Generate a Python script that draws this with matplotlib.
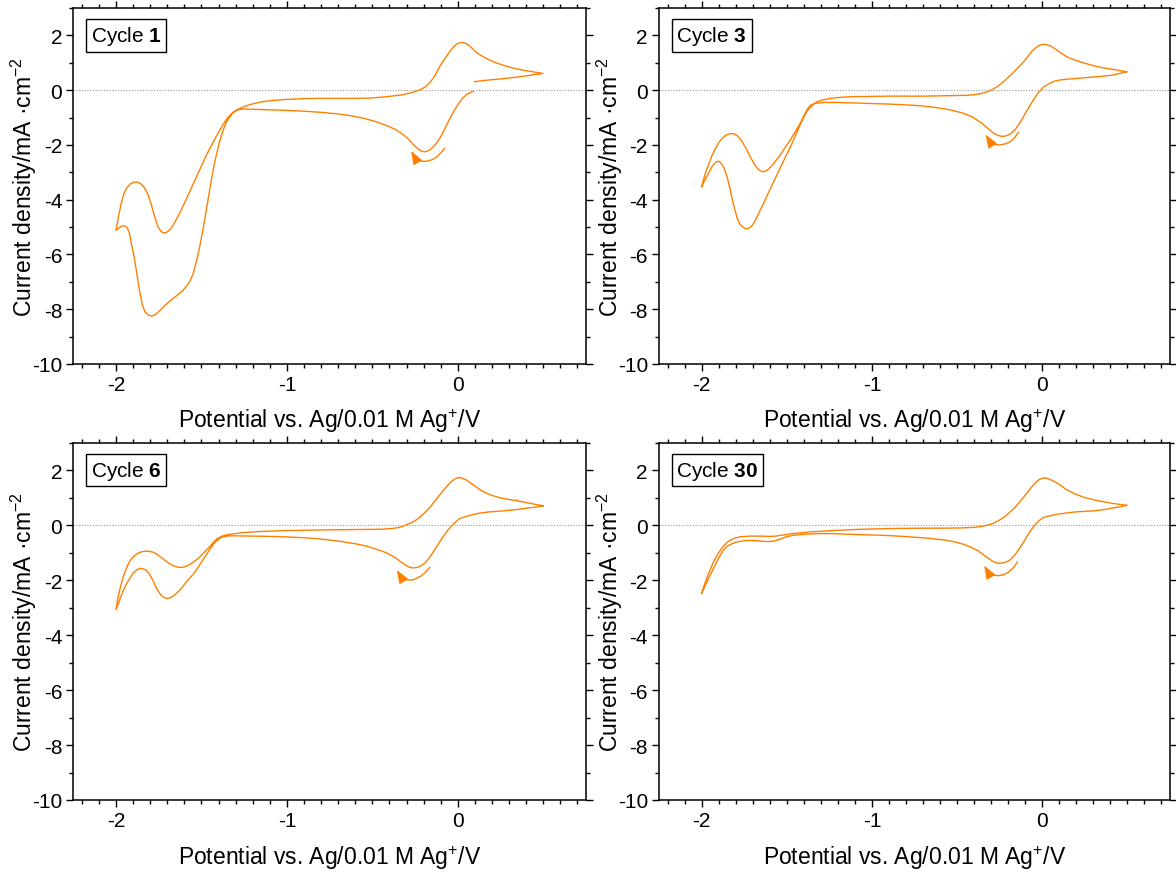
import matplotlib
matplotlib.use("Agg")
import matplotlib.pyplot as plt
from matplotlib.ticker import MultipleLocator

plt.rcParams['font.family'] = ['Liberation Sans', 'DejaVu Sans']
plt.rcParams['mathtext.fontset'] = 'custom'
plt.rcParams['mathtext.rm'] = 'Liberation Sans'
plt.rcParams['mathtext.bf'] = 'Liberation Sans:bold'
plt.rcParams['mathtext.default'] = 'regular'
plt.rcParams['axes.unicode_minus'] = False

# ---------------- data: potential (V) and current density (mA cm^-2) ----------------
# Cycle 1 main loop
E_c1 = [0.091, 0.07, 0.049, 0.025, 0.0, -0.025, -0.049, -0.073, -0.097, -0.122, -0.146, -0.168,
        -0.189, -0.207, -0.224, -0.243, -0.263, -0.29, -0.322, -0.37, -0.419, -0.48, -0.55, -0.62,
        -0.7, -0.8, -0.9, -1.0, -1.1, -1.2, -1.25, -1.285, -1.317, -1.336, -1.356, -1.375, -1.395,
        -1.415, -1.434, -1.453, -1.473, -1.492, -1.512, -1.531, -1.55, -1.565, -1.58, -1.61, -1.65,
        -1.688, -1.72, -1.747, -1.77, -1.79, -1.81, -1.83, -1.845, -1.863, -1.878, -1.893, -1.91,
        -1.922, -1.935, -1.95, -1.965, -1.98, -2.0,
        -1.995, -1.985, -1.97, -1.955, -1.935, -1.915, -1.895, -1.873, -1.855, -1.835, -1.815,
        -1.795, -1.775, -1.755, -1.735, -1.717, -1.698, -1.678, -1.655, -1.63, -1.59, -1.55, -1.51,
        -1.473, -1.44, -1.41, -1.378, -1.35, -1.32, -1.29, -1.25, -1.2, -1.14, -1.07, -1.0, -0.9,
        -0.8, -0.7, -0.6, -0.517, -0.45, -0.39, -0.322, -0.27, -0.224, -0.195, -0.166, -0.137,
        -0.107, -0.078, -0.049, -0.025, -0.009, 0.008, 0.026, 0.048, 0.068, 0.088, 0.108, 0.135,
        0.166, 0.21, 0.264, 0.32, 0.38, 0.44, 0.498,
        0.45, 0.4, 0.35, 0.3, 0.25, 0.2, 0.15, 0.098]
j_c1 = [-0.04, -0.10, -0.17, -0.32, -0.53, -0.79, -1.07, -1.37, -1.67, -1.92, -2.09, -2.20,
        -2.25, -2.24, -2.19, -2.09, -1.97, -1.78, -1.61, -1.42, -1.29, -1.15, -1.03, -0.94,
        -0.87, -0.81, -0.77, -0.74, -0.72, -0.70, -0.69, -0.71, -0.83, -1.0, -1.19, -1.5, -1.91,
        -2.42, -3.0, -3.7, -4.44, -5.12, -5.77, -6.3, -6.73, -6.95, -7.09, -7.33, -7.53,
        -7.72, -7.9, -8.07, -8.2, -8.25, -8.22, -8.1, -7.85, -7.3, -6.7, -6.13, -5.6,
        -5.2, -5.02, -4.96, -4.96, -5.02, -5.12,
        -4.95, -4.6, -4.15, -3.8, -3.55, -3.42, -3.36, -3.36, -3.42, -3.55, -3.78,
        -4.15, -4.6, -4.98, -5.17, -5.22, -5.17, -5.05, -4.82, -4.52, -4.0, -3.45, -2.9,
        -2.4, -2.0, -1.65, -1.30, -1.03, -0.84, -0.71, -0.60, -0.5, -0.42, -0.37, -0.34, -0.31,
        -0.30, -0.30, -0.30, -0.29, -0.26, -0.22, -0.17, -0.09, 0.0, 0.10, 0.25, 0.50,
        0.85, 1.13, 1.39, 1.58, 1.67, 1.72, 1.74, 1.70, 1.62, 1.50, 1.38, 1.27,
        1.16, 1.03, 0.91, 0.81, 0.73, 0.67, 0.61,
        0.57, 0.52, 0.48, 0.44, 0.41, 0.38, 0.35, 0.31]
E_hook_c1 = [-0.078, -0.1, -0.126, -0.15, -0.175, -0.2, -0.224, -0.245]
j_hook_c1 = [-2.13, -2.3, -2.45, -2.54, -2.59, -2.6, -2.58, -2.53]
tip_c1 = (-0.273, -2.22)

# Cycle 3 main loop
E_c3 = [0.495, 0.45, 0.413, 0.36, 0.303, 0.25, 0.193, 0.15, 0.105, 0.075, 0.051, 0.03, 0.007,
        -0.01, -0.026, -0.048, -0.07, -0.092, -0.114, -0.136, -0.158, -0.182, -0.207, -0.228,
        -0.246, -0.268, -0.29, -0.323, -0.356, -0.41, -0.466, -0.54, -0.62, -0.7, -0.796, -0.9,
        -1.0, -1.1, -1.2, -1.28, -1.33, -1.36, -1.38, -1.40, -1.415, -1.433, -1.455, -1.477,
        -1.51, -1.543, -1.576, -1.609, -1.637, -1.664, -1.688, -1.708, -1.725, -1.741, -1.76,
        -1.775, -1.79, -1.803, -1.818, -1.835, -1.851, -1.868, -1.884, -1.9, -1.915, -1.938,
        -1.955, -1.971, -1.986, -2.0,
        -1.99, -1.975, -1.96, -1.94, -1.916, -1.895, -1.873, -1.853, -1.833, -1.815, -1.796,
        -1.78, -1.763, -1.742, -1.719, -1.697, -1.675, -1.658, -1.642, -1.625, -1.609, -1.58,
        -1.543, -1.51, -1.477, -1.45, -1.422, -1.40, -1.375, -1.345, -1.32, -1.29, -1.25, -1.2,
        -1.125, -1.0, -0.9, -0.8, -0.7, -0.6, -0.5, -0.44, -0.39, -0.356, -0.325, -0.3, -0.272,
        -0.246, -0.213, -0.18, -0.147, -0.114, -0.086, -0.059, -0.035, -0.015, 0.005, 0.025,
        0.05, 0.078, 0.105, 0.14, 0.193, 0.25, 0.303, 0.36, 0.413, 0.45, 0.495]
j_c3 = [0.67, 0.60, 0.55, 0.51, 0.48, 0.45, 0.42, 0.40, 0.37, 0.33, 0.27, 0.20, 0.11,
        0.0, -0.12, -0.32, -0.54, -0.77, -1.01, -1.24, -1.43, -1.58, -1.66, -1.69,
        -1.68, -1.63, -1.55, -1.38, -1.20, -0.98, -0.84, -0.72, -0.64, -0.58, -0.54, -0.51,
        -0.49, -0.47, -0.45, -0.45, -0.48, -0.55, -0.70, -0.95, -1.18, -1.44, -1.75, -2.05,
        -2.47, -2.9, -3.33, -3.76, -4.14, -4.49, -4.8, -4.98, -5.05, -5.06, -5.0,
        -4.9, -4.7, -4.4, -4.05, -3.55, -3.15, -2.85, -2.68, -2.6, -2.62, -2.78,
        -2.98, -3.17, -3.35, -3.54,
        -3.3, -2.98, -2.74, -2.40, -2.1, -1.88, -1.72, -1.63, -1.59, -1.59, -1.64,
        -1.73, -1.87, -2.1, -2.38, -2.64, -2.84, -2.94, -2.98, -2.96, -2.9, -2.7,
        -2.41, -2.1, -1.8, -1.52, -1.22, -0.96, -0.72, -0.52, -0.42, -0.36, -0.31, -0.27,
        -0.24, -0.23, -0.22, -0.22, -0.22, -0.21, -0.2, -0.19, -0.16, -0.12, -0.07, 0.0, 0.1,
        0.21, 0.39, 0.58, 0.79, 1.0, 1.22, 1.43, 1.56, 1.64, 1.67, 1.66,
        1.61, 1.50, 1.37, 1.23, 1.09, 0.98, 0.89, 0.81, 0.76, 0.72, 0.67]
E_hook_c3 = [-0.141, -0.16, -0.18, -0.21, -0.246, -0.27, -0.3]
j_hook_c3 = [-1.54, -1.72, -1.85, -1.95, -2.0, -1.99, -1.95]
tip_c3 = (-0.333, -1.62)

# Cycle 6 main loop
E_c6 = [0.5, 0.45, 0.405, 0.35, 0.3, 0.25, 0.184, 0.13, 0.073, 0.04, 0.007, -0.015, -0.038,
        -0.06, -0.082, -0.104, -0.126, -0.148, -0.17, -0.192, -0.215, -0.24, -0.263, -0.283,
        -0.303, -0.335, -0.369, -0.42, -0.48, -0.53, -0.59, -0.7, -0.812, -0.9, -1.0, -1.1,
        -1.2, -1.3, -1.343, -1.37, -1.39, -1.41, -1.431, -1.455, -1.476, -1.5, -1.52, -1.55,
        -1.586, -1.62, -1.653, -1.675, -1.697, -1.718, -1.74, -1.763, -1.785, -1.805, -1.825,
        -1.852, -1.875, -1.9, -1.92, -1.94, -1.96, -1.98, -2.0,
        -1.99, -1.978, -1.96, -1.94, -1.918, -1.895, -1.874, -1.85, -1.83, -1.81, -1.785,
        -1.763, -1.73, -1.697, -1.665, -1.63, -1.605, -1.586, -1.555, -1.52, -1.49, -1.454,
        -1.43, -1.41, -1.385, -1.365, -1.33, -1.254, -1.15, -1.0, -0.85, -0.7, -0.55, -0.45,
        -0.38, -0.347, -0.32, -0.3, -0.275, -0.25, -0.22, -0.185, -0.15, -0.12, -0.09, -0.06,
        -0.035, -0.015, 0.005, 0.025, 0.05, 0.075, 0.1, 0.13, 0.165, 0.2, 0.25, 0.3, 0.34,
        0.345, 0.352, 0.4, 0.45, 0.5]
j_c6 = [0.70, 0.65, 0.62, 0.57, 0.54, 0.51, 0.48, 0.44, 0.36, 0.30, 0.22, 0.10, -0.04,
        -0.2, -0.38, -0.59, -0.8, -1.02, -1.22, -1.38, -1.48, -1.54, -1.56, -1.53,
        -1.47, -1.33, -1.17, -1.0, -0.87, -0.77, -0.69, -0.58, -0.5, -0.46, -0.43, -0.41,
        -0.40, -0.39, -0.39, -0.42, -0.47, -0.57, -0.70, -0.92, -1.12, -1.35, -1.54, -1.80,
        -2.05, -2.32, -2.52, -2.62, -2.67, -2.64, -2.52, -2.3, -2.0, -1.78, -1.63,
        -1.57, -1.61, -1.75, -1.95, -2.15, -2.42, -2.75, -3.08,
        -2.7, -2.35, -1.92, -1.58, -1.29, -1.13, -1.03, -0.97, -0.95, -0.95, -0.98,
        -1.05, -1.2, -1.36, -1.48, -1.54, -1.53, -1.49, -1.38, -1.22, -1.03, -0.8,
        -0.63, -0.5, -0.42, -0.37, -0.33, -0.27, -0.23, -0.2, -0.18, -0.17, -0.16, -0.15,
        -0.12, -0.09, -0.04, 0.02, 0.08, 0.16, 0.30, 0.5, 0.75, 0.99, 1.22, 1.44,
        1.6, 1.69, 1.73, 1.71, 1.64, 1.53, 1.42, 1.29, 1.17, 1.08, 0.99, 0.93, 0.89,
        0.92, 0.88, 0.82, 0.76, 0.70]
E_hook_c6 = [-0.164, -0.19, -0.215, -0.245, -0.27, -0.295, -0.325]
j_hook_c6 = [-1.54, -1.72, -1.85, -1.95, -2.0, -1.99, -1.96]
tip_c6 = (-0.357, -1.63)

# Cycle 30 main loop
E_c30 = [0.495, 0.45, 0.413, 0.36, 0.3, 0.25, 0.193, 0.14, 0.084, 0.045, 0.007, -0.015, -0.037,
         -0.06, -0.081, -0.108, -0.136, -0.163, -0.191, -0.22, -0.245, -0.265, -0.29, -0.312,
         -0.345, -0.378, -0.42, -0.466, -0.52, -0.576, -0.68, -0.796, -0.9, -1.0, -1.1, -1.235,
         -1.33, -1.411, -1.46, -1.5, -1.535, -1.565, -1.59, -1.609, -1.65, -1.697, -1.74,
         -1.785, -1.82, -1.851, -1.875, -1.9, -1.92, -1.95, -1.975, -2.0,
         -1.99, -1.975, -1.955, -1.935, -1.91, -1.88, -1.845, -1.807, -1.77, -1.719, -1.65,
         -1.6, -1.565, -1.52, -1.47, -1.433, -1.35, -1.235, -1.1, -1.0, -0.85, -0.686, -0.55,
         -0.466, -0.4, -0.356, -0.32, -0.29, -0.257, -0.224, -0.19, -0.158, -0.125, -0.092,
         -0.065, -0.037, -0.015, 0.013, 0.035, 0.06, 0.085, 0.105, 0.14, 0.193, 0.25, 0.303,
         0.36, 0.413, 0.45, 0.495]
j_c30 = [0.72, 0.66, 0.62, 0.56, 0.52, 0.50, 0.48, 0.44, 0.39, 0.34, 0.28, 0.18, 0.05,
         -0.13, -0.32, -0.6, -0.87, -1.1, -1.28, -1.36, -1.39, -1.38, -1.32, -1.23,
         -1.08, -0.93, -0.8, -0.69, -0.6, -0.54, -0.47, -0.42, -0.38, -0.36, -0.34, -0.31,
         -0.31, -0.34, -0.37, -0.42, -0.5, -0.56, -0.59, -0.6, -0.58, -0.56, -0.56,
         -0.6, -0.67, -0.77, -0.93, -1.2, -1.45, -1.82, -2.15, -2.49,
         -2.3, -2.02, -1.7, -1.4, -1.1, -0.82, -0.6, -0.47, -0.42, -0.40, -0.40,
         -0.41, -0.40, -0.36, -0.31, -0.29, -0.24, -0.2, -0.16, -0.14, -0.12, -0.11, -0.11,
         -0.1, -0.08, -0.05, 0.0, 0.06, 0.16, 0.29, 0.47, 0.66, 0.90, 1.15,
         1.37, 1.56, 1.67, 1.72, 1.69, 1.62, 1.54, 1.46, 1.30, 1.13, 1.0, 0.92,
         0.85, 0.79, 0.76, 0.72]
E_hook_c30 = [-0.147, -0.17, -0.2, -0.23, -0.257, -0.285, -0.312]
j_hook_c30 = [-1.35, -1.55, -1.72, -1.81, -1.84, -1.82, -1.78]
tip_c30 = (-0.341, -1.47)

cycle_labels = ['1', '3', '6', '30']
loops = [(E_c1, j_c1), (E_c3, j_c3), (E_c6, j_c6), (E_c30, j_c30)]
hooks = [(E_hook_c1, j_hook_c1, tip_c1), (E_hook_c3, j_hook_c3, tip_c3),
         (E_hook_c6, j_hook_c6, tip_c6), (E_hook_c30, j_hook_c30, tip_c30)]

xlabel = 'Potential vs. Ag/0.01 M Ag$^{+}$/V'
ylabel = 'Current density/mA ·cm$^{-2}$'

# ---------------- figure ----------------
LINE = '#FF8000'
fig = plt.figure(figsize=(11.76, 8.78), dpi=100)
positions = [[0.0623, 0.5843, 0.4360, 0.4055],
             [0.5604, 0.5843, 0.4345, 0.4055],
             [0.0623, 0.0877, 0.4360, 0.4070],
             [0.5604, 0.0877, 0.4345, 0.4070]]

for pos, label, (E, j), (hE, hj, tip) in zip(positions, cycle_labels, loops, hooks):
    ax = fig.add_axes(pos)
    ax.axhline(0, color='#9a9a9a', lw=0.8, ls=(0, (1, 1.5)), zorder=1)
    ax.plot(E, j, color=LINE, lw=1.0, zorder=3)
    ax.plot(hE, hj, color=LINE, lw=1.0, zorder=3)
    # scan-direction arrowhead at the end of the initial sweep
    ax.annotate('', xy=tip, xytext=(hE[-1], hj[-1]),
                arrowprops=dict(arrowstyle='-|>,head_length=0.8,head_width=0.3',
                                color=LINE, lw=1.0, shrinkA=0, shrinkB=0))

    ax.set_xlim(-2.25, 0.75)
    ax.set_ylim(-10, 3)
    ax.xaxis.set_major_locator(MultipleLocator(1))
    ax.xaxis.set_minor_locator(MultipleLocator(0.1))
    ax.yaxis.set_minor_locator(MultipleLocator(1))
    ax.set_yticks([-10, -8, -6, -4, -2, 0, 2])
    ax.tick_params(which='both', direction='out', top=True, right=True,
                   labeltop=False, labelright=False, width=1.0, colors='black')
    ax.tick_params(which='major', length=5, labelsize=15, pad=3)
    ax.tick_params(which='minor', length=3)
    for sp in ax.spines.values():
        sp.set_linewidth(1.1)

    ax.set_xlabel(xlabel, fontsize=16.5, labelpad=9)
    ax.set_ylabel(ylabel, fontsize=16.5)
    ax.yaxis.set_label_coords(-0.066, 0.5)

    ax.text(0.034, 0.955, 'Cycle $\\mathbf{' + label + '}$', transform=ax.transAxes,
            ha='left', va='top', fontsize=15,
            bbox=dict(boxstyle='square,pad=0.22', fc='white', ec='black', lw=1.0),
            zorder=5)

fig.savefig('out.png', dpi=100, facecolor='white')
